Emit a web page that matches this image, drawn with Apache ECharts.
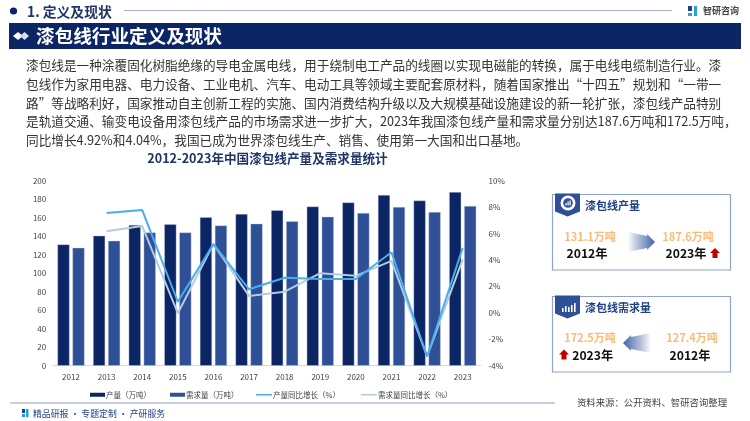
<!DOCTYPE html>
<html><head><meta charset="utf-8">
<style>html,body{margin:0;padding:0;background:#fff}#c{width:750px;height:421px}</style>
<script src="https://cdn.jsdelivr.net/npm/echarts@6/dist/echarts.min.js"></script>
</head><body><div id="c"></div>
<script>
const categories=['2012','2013','2014','2015','2016','2017','2018','2019','2020','2021','2022','2023'];
const production=[131.1,140.5,152,153,160.5,164,168,172,176.5,184.5,178.5,187.6];
const demand=[127.4,135,144,144,151.5,153.5,156,161,165,171.5,166,172.5];
const productionGrowth=[null,7.56,7.78,0.84,5.2,1.78,2.66,2.56,2.56,4.58,-3.3,4.92];
const demandGrowth=[null,6.17,6.57,-0.03,5.2,1.28,1.6,3.0,2.8,3.93,-3.3,4.04];
const paragraph=[
'漆包线是一种涂覆固化树脂绝缘的导电金属电线，用于绕制电工产品的线圈以实现电磁能的转换，属于电线电缆制造行业。漆',
'包线作为家用电器、电力设备、工业电机、汽车、电动工具等领域主要配套原材料，随着国家推出“十四五”规划和“一带一',
'路”等战略利好，国家推动自主创新工程的实施、国内消费结构升级以及大规模基础设施建设的新一轮扩张，漆包线产品特别',
'是轨道交通、输变电设备用漆包线产品的市场需求进一步扩大，2023年我国漆包线产量和需求量分别达187.6万吨和172.5万吨，',
'同比增长4.92%和4.04%，我国已成为世界漆包线生产、销售、使用第一大国和出口基地。'];
const F='"Noto Sans CJK SC","Noto Sans",sans-serif';
const NAVY='#0B2565',BLUE='#2F5096',ORANGE='#FBBC72';
function T(x,y,text,size,fill,weight,align){return {type:'text',x,y,silent:true,style:{text,fontSize:size,fill,fontWeight:weight||'normal',fontFamily:F,align:align||'left',verticalAlign:'middle'}};}
function R(x,y,w,h,fill,stroke,lw){return {type:'rect',shape:{x,y,width:w,height:h},silent:true,style:{fill:fill||'transparent',stroke:stroke||null,lineWidth:lw||0}};}
function P(points,fill){return {type:'polygon',shape:{points},silent:true,style:{fill}};}
function upArrow(cx,cy){return P([[cx,cy-5],[cx+5,cy],[cx+2.5,cy],[cx+2.5,cy+5],[cx-2.5,cy+5],[cx-2.5,cy],[cx-5,cy]],'#C00000');}
function card(y,title){return [
 R(552.5,y,178,75.5,'#fff','#8FA3CC',1.2),
 P([[555,y-1],[580,y-1],[580,y+17],[567.5,y+22],[555,y+17]],BLUE),
 T(585,y+11,title,11,'#1F3F86','bold')];}
function arrow(x0,x1,cy,grad){const d=x1>x0?1:-1;return P([[x0,cy-10],[x1-d*8,cy-6],[x1-d*8,cy-8],[x1,cy],[x1-d*8,cy+8],[x1-d*8,cy+6],[x0,cy+10]],grad);}
const stops=[{offset:0,color:'rgba(47,80,150,0)'},{offset:0.5,color:'rgba(74,107,170,0.55)'},{offset:1,color:'#3F62A6'}];
const gradR={type:'linear',x:0,y:0,x2:1,y2:0,colorStops:stops};
const gradL={type:'linear',x:1,y:0,x2:0,y2:0,colorStops:stops};
const g=[
 {type:'circle',shape:{cx:13.5,cy:11,r:3.6},silent:true,style:{fill:NAVY}},
 T(27,11.5,'1. 定义及现状',13.8,'#1F3567','bold'),
 {type:'line',shape:{x1:124,y1:10.5,x2:672,y2:10.5},silent:true,style:{stroke:'#A4B1D3',lineWidth:1.2}},
 R(9,23,732,26,NAVY),
 P([[13,36],[18,32],[23,36],[18,40]],'#fff'),P([[20,36],[24.5,32],[29,36],[24.5,40]],'#D6DCE8'),
 T(36,36,'漆包线行业定义及现状',18.6,'#fff','bold'),
 T(703,10.5,'智研咨询',9,'#444','bold'),
 R(688,6,4,5,'#1F3F86'),R(688,13,4,3,'#2A9FE0'),R(694,6,3,10,'#2A9FE0'),
 ...paragraph.map((s,i)=>T(26,65.3+i*18.8,s,12.65,'#333')),
 T(267.5,158.7,'2012-2023年中国漆包线产量及需求量统计',12.6,'#1F3567','bold','center'),
 ...card(194.5,'漆包线产量'),
 {type:'circle',shape:{cx:568,cy:203,r:7.5},silent:true,style:{fill:'#fff'}},
 {type:'circle',shape:{cx:568,cy:203,r:4.8},silent:true,style:{fill:BLUE}},
 R(565.5,203,1.2,2.5,'#fff'),R(567.5,201.5,1.2,4,'#fff'),R(569.5,200.5,1.2,5,'#fff'),
 T(590,236.7,'131.1万吨',11,ORANGE,'bold','center'),T(587,253,'2012年',12.2,'#111','bold','center'),
 arrow(628,655,242,gradR),
 T(688,236.7,'187.6万吨',11,ORANGE,'bold','center'),T(686,253,'2023年',12.2,'#111','bold','center'),upArrow(715,253),
 ...card(296.5,'漆包线需求量'),
 R(562,308,1.6,4,'#fff'),R(565,306,1.6,6,'#fff'),R(568,307,1.6,5,'#fff'),R(571,305,1.6,7,'#fff'),R(574,303,1.6,9,'#fff'),
 T(590,338,'172.5万吨',11,ORANGE,'bold','center'),T(592.7,355.5,'2023年',12.2,'#111','bold','center'),upArrow(564,354.5),
 arrow(651,623,343,gradL),
 T(692,338,'127.4万吨',11,ORANGE,'bold','center'),T(690,355.5,'2012年',12.2,'#111','bold','center'),
 {type:'line',shape:{x1:10,y1:403,x2:555,y2:403},silent:true,style:{stroke:'#8FA0C4',lineWidth:1.2}},
 R(22,409,3,4,'#1F3F86'),R(22,414,3,3,'#2A9FE0'),R(26,409,2.5,8,'#2A9FE0'),
 T(33,413.5,'精品研报 · 专题定制 · 产研服务',8.9,'#1F3F86'),
 T(652,402,'资料来源：公开资料、智研咨询整理',9.4,'#444','normal','center')
];
const legendText={fontSize:7.5,color:'#444',padding:[0,0,0,-4]};
const chart=echarts.init(document.getElementById('c'),null,{renderer:'canvas'});
chart.setOption({
 animation:false,backgroundColor:'#fff',textStyle:{fontFamily:F},
 grid:{left:53.2,right:269.5,top:180.7,bottom:55.3,containLabel:false},
 legend:[
  {left:90,top:391,padding:0,itemGap:19,itemWidth:15,itemHeight:4,icon:'rect',itemStyle:{borderWidth:0},textStyle:legendText,data:['产量（万吨）','需求量（万吨）']},
  {left:256,top:391,padding:0,itemGap:21,itemWidth:16,itemHeight:1.5,icon:'rect',itemStyle:{borderWidth:0},textStyle:legendText,data:['产量同比增长（%）','需求量同比增长（%）']}],
 xAxis:{type:'category',data:categories,axisTick:{show:false},axisLine:{lineStyle:{color:'#D9D9D9'}},axisLabel:{fontSize:8,color:'#444',margin:7}},
 yAxis:[
  {type:'value',min:0,max:200,interval:20,splitLine:{show:false},axisLine:{show:false},axisTick:{show:false},axisLabel:{fontSize:8,color:'#444',margin:7}},
  {type:'value',min:-4,max:10,interval:2,position:'right',splitLine:{show:false},axisLine:{show:false},axisTick:{show:false},axisLabel:{fontSize:8,color:'#444',margin:8,formatter:'{value}%'}}],
 series:[
  {name:'产量（万吨）',type:'bar',data:production,barWidth:12,barGap:'25%',itemStyle:{color:NAVY,borderColor:'#C8D2E6',borderWidth:0.4}},
  {name:'需求量（万吨）',type:'bar',data:demand,barWidth:12,itemStyle:{color:BLUE,borderColor:'#C8D2E6',borderWidth:0.4}},
  {name:'产量同比增长（%）',type:'line',yAxisIndex:1,data:productionGrowth,symbol:'none',z:4,lineStyle:{color:'#47ADEE',width:2},itemStyle:{color:'#47ADEE'}},
  {name:'需求量同比增长（%）',type:'line',yAxisIndex:1,data:demandGrowth,symbol:'none',z:3,lineStyle:{color:'#B4CCE0',width:2},itemStyle:{color:'#B4CCE0'}}
 ],
 graphic:{elements:g}
});
</script></body></html>
